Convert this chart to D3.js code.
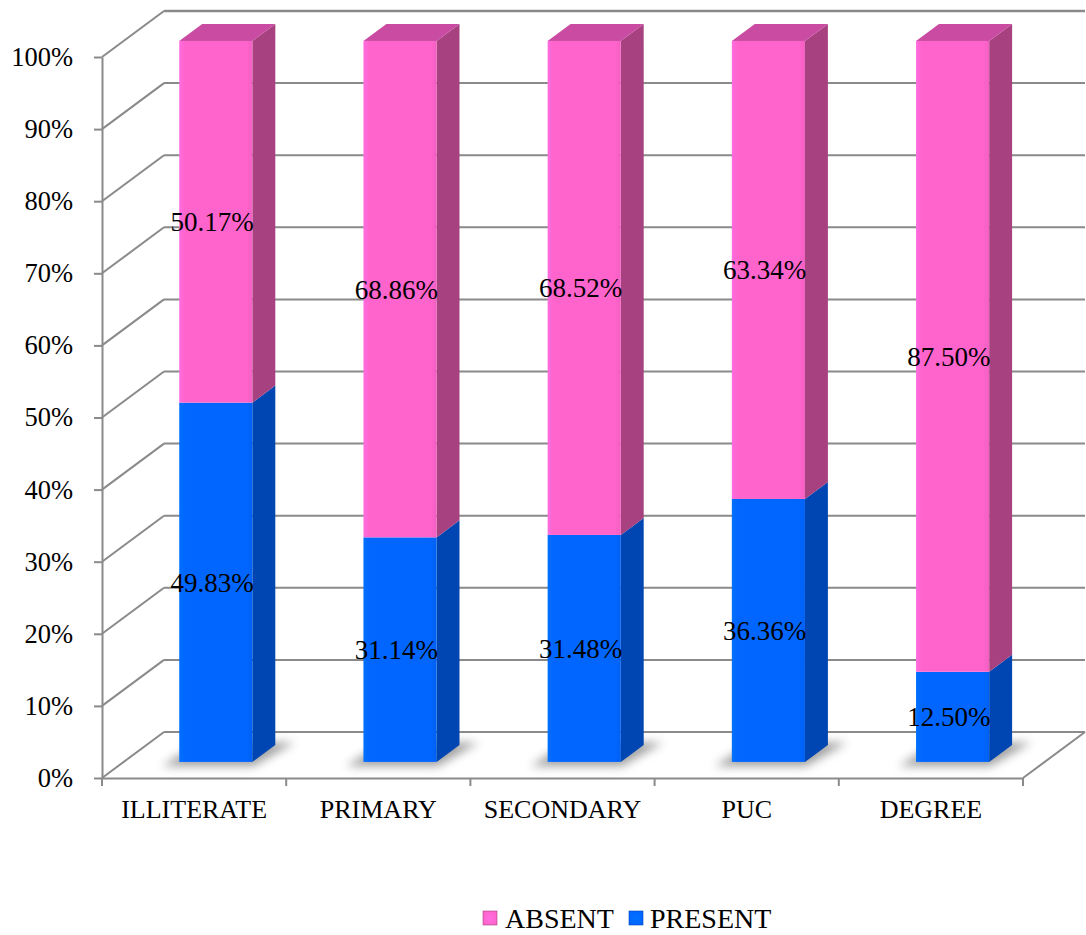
<!DOCTYPE html>
<html>
<head>
<meta charset="utf-8">
<script src="https://cdn.jsdelivr.net/npm/d3@7/dist/d3.min.js"></script>
<style>
  html, body { margin: 0; padding: 0; background: #fff; }
  svg { display: block; }
  text { font-family: "Liberation Serif", "Times New Roman", serif; fill: #000; }
</style>
</head>
<body>
<svg id="chart" width="1086" height="935"></svg>
<script>
// Education level vs. present / absent share (100% stacked, 3-D columns)
const categories = ["ILLITERATE", "PRIMARY", "SECONDARY", "PUC", "DEGREE"];
const presentValues = [49.83, 31.14, 31.48, 36.36, 12.50];
const absentValues  = [50.17, 68.86, 68.52, 63.34, 87.50];
const seriesNames = ["ABSENT", "PRESENT"];
const yTickValues = [0, 0.1, 0.2, 0.3, 0.4, 0.5, 0.6, 0.7, 0.8, 0.9, 1];

const colors = {
  PRESENT: { front: "#0066FF", side: "#0046B2", top: "#0055D6" },
  ABSENT:  { front: "#FF64CC", side: "#A8417F", top: "#C94CA2" }
};
const serif = '"Liberation Serif", "Times New Roman", serif';

const svg = d3.select("#chart");
const defs = svg.append("defs");

// oblique projection of the depth axis
const DX = 62, DY = -46;
const proj = (x, y, z) => [x + DX * z, y + DY * z];

const x = d3.scaleBand().domain(categories).range([102, 1023]).padding(0);
const y = d3.scaleLinear().domain([0, 1]).range([778, 57]);

const gridColor = "#8a8a8a";

// back wall horizontal gridlines
const grid = svg.append("g").attr("stroke", gridColor).attr("stroke-width", 2).attr("fill", "none");
yTickValues.forEach(t => {
  const a = proj(x.range()[0], y(t), 1);
  const b = proj(x.range()[1], y(t), 1);
  grid.append("line").attr("x1", a[0]).attr("y1", a[1]).attr("x2", b[0]).attr("y2", b[1])
    .attr("stroke-width", t === 1 ? 2.6 : 2);
});
// side wall diagonals
yTickValues.forEach(t => {
  const a = proj(x.range()[0], y(t), 0);
  const b = proj(x.range()[0], y(t), 1);
  grid.append("line").attr("x1", a[0]).attr("y1", a[1]).attr("x2", b[0]).attr("y2", b[1]);
});
// floor right edge
{
  const a = proj(x.range()[1], y(0), 0);
  const b = proj(x.range()[1], y(0), 1);
  grid.append("line").attr("x1", a[0]).attr("y1", a[1]).attr("x2", b[0]).attr("y2", b[1]);
}

// soft shadow filter
defs.append("filter").attr("id", "shadowBlur").attr("x", "-50%").attr("y", "-200%")
  .attr("width", "200%").attr("height", "500%")
  .append("feGaussianBlur").attr("stdDeviation", 5);

// front face shading gradients
Object.entries(colors).forEach(([name, c]) => {
  const g = defs.append("linearGradient").attr("id", "grad-" + name)
    .attr("x1", "0").attr("x2", "1").attr("y1", "0").attr("y2", "0");
  g.append("stop").attr("offset", "0").attr("stop-color", d3.color(c.front).brighter(0.25));
  g.append("stop").attr("offset", "0.08").attr("stop-color", c.front);
  g.append("stop").attr("offset", "0.92").attr("stop-color", c.front);
  g.append("stop").attr("offset", "1").attr("stop-color", d3.color(c.front).darker(0.15));
});

// stacked data (normalized to 100%)
const rows = categories.map((c, i) => {
  const total = presentValues[i] + absentValues[i];
  return { cat: c, present: presentValues[i], absent: absentValues[i], total };
});
const stack = d3.stack().keys(["present", "absent"])
  .value((d, k) => d[k] / d.total);
const layers = stack(rows);

const barW = x.bandwidth() * 0.397;
const z0 = 0.35, z1 = 0.72;

const poly = pts => pts.map(p => p.join(",")).join(" ");

// shadows under columns
const shadows = svg.append("g");
rows.forEach(r => {
  const cx = x(r.cat) + x.bandwidth() / 2;
  const fl = proj(cx - barW / 2, y(0), z0 - 0.05);
  const fr = proj(cx + barW / 2, y(0), z0 - 0.05);
  const br = proj(cx + barW / 2 + 6, y(0), z1 + 0.05);
  const bl = proj(cx - barW / 2 - 6, y(0), z1 + 0.05);
  shadows.append("polygon")
    .attr("points", poly([[fl[0] - 14, fl[1] + 2], [fr[0] + 4, fr[1] + 2], [br[0] + 10, br[1]], [bl[0], bl[1]]]))
    .attr("fill", "#555").attr("opacity", 0.55).attr("filter", "url(#shadowBlur)");
});

// columns
const bars = svg.append("g");
rows.forEach((r, i) => {
  const left = x(r.cat) + (x.bandwidth() - barW) / 2;
  const right = left + barW;
  layers.forEach((layer, li) => {
    const key = li === 0 ? "PRESENT" : "ABSENT";
    const c = colors[key];
    const [v0, v1] = layer[i];
    const y0 = y(v0), y1 = y(v1);
    const g = bars.append("g");
    // side face
    g.append("polygon").attr("fill", c.side)
      .attr("points", poly([proj(right, y0, z0), proj(right, y0, z1), proj(right, y1, z1), proj(right, y1, z0)]));
    // top face (visible only on the uppermost segment)
    if (li === layers.length - 1) {
      g.append("polygon").attr("fill", c.top)
        .attr("points", poly([proj(left, y1, z0), proj(right, y1, z0), proj(right, y1, z1), proj(left, y1, z1)]));
    }
    // front face
    const fTL = proj(left, y1, z0), fBR = proj(right, y0, z0);
    g.append("rect").attr("x", fTL[0]).attr("y", fTL[1])
      .attr("width", fBR[0] - fTL[0]).attr("height", fBR[1] - fTL[1])
      .attr("fill", "url(#grad-" + key + ")");
  });
});

// value labels
const labels = svg.append("g").attr("text-anchor", "middle");
rows.forEach((r, i) => {
  layers.forEach((layer, li) => {
    const [v0, v1] = layer[i];
    const val = li === 0 ? r.present : r.absent;
    const cy = (y(v0) + y(v1)) / 2 + DY * z0;
    labels.append("text")
      .attr("x", x(r.cat) + x.bandwidth() / 2 + 18)
      .attr("y", cy).attr("dy", "0.35em")
      .style("font-family", serif).style("font-size", "27px")
      .text(val.toFixed(2) + "%");
  });
});

// y axis
const yAxis = svg.append("g").attr("transform", `translate(${x.range()[0]},0)`)
  .call(d3.axisLeft(y).tickValues(yTickValues).tickFormat(d3.format(".0%"))
    .tickSize(8).tickSizeOuter(0).tickPadding(21));
yAxis.selectAll("path, line").attr("stroke", gridColor).attr("stroke-width", 2);
yAxis.selectAll("text").style("font-family", serif).style("font-size", "26.5px").attr("fill", "#000");

// x axis
const xAxis = svg.append("g").attr("transform", `translate(0,${y(0)})`)
  .call(d3.axisBottom(x).tickSize(0).tickSizeOuter(0).tickPadding(21.5));
xAxis.select("path").attr("stroke", gridColor).attr("stroke-width", 2);
xAxis.selectAll("text").style("font-family", serif).style("font-size", "26px").attr("fill", "#000");
xAxis.selectAll("line.sep").data(categories.map(c => x(c)).concat([x.range()[1]]))
  .enter().append("line").attr("class", "sep")
  .attr("x1", d => d).attr("x2", d => d).attr("y1", 0).attr("y2", 8)
  .attr("stroke", gridColor).attr("stroke-width", 2);

// legend
const legend = svg.append("g");
const legendItems = [
  { name: seriesNames[0], color: colors.ABSENT, sx: 483, tx: 505 },
  { name: seriesNames[1], color: colors.PRESENT, sx: 629, tx: 650 }
];
legendItems.forEach(it => {
  const gid = "lg-" + it.name;
  const rg = defs.append("radialGradient").attr("id", gid);
  rg.append("stop").attr("offset", "0").attr("stop-color", d3.color(it.color.front).brighter(0.3));
  rg.append("stop").attr("offset", "1").attr("stop-color", it.color.front);
  legend.append("rect").attr("x", it.sx).attr("y", 911).attr("width", 14).attr("height", 14)
    .attr("fill", `url(#${gid})`).attr("stroke", it.color.side).attr("stroke-width", 0.6);
  legend.append("text").attr("x", it.tx).attr("y", 928)
    .style("font-family", serif).style("font-size", "28px").text(it.name);
});
</script>
</body>
</html>
